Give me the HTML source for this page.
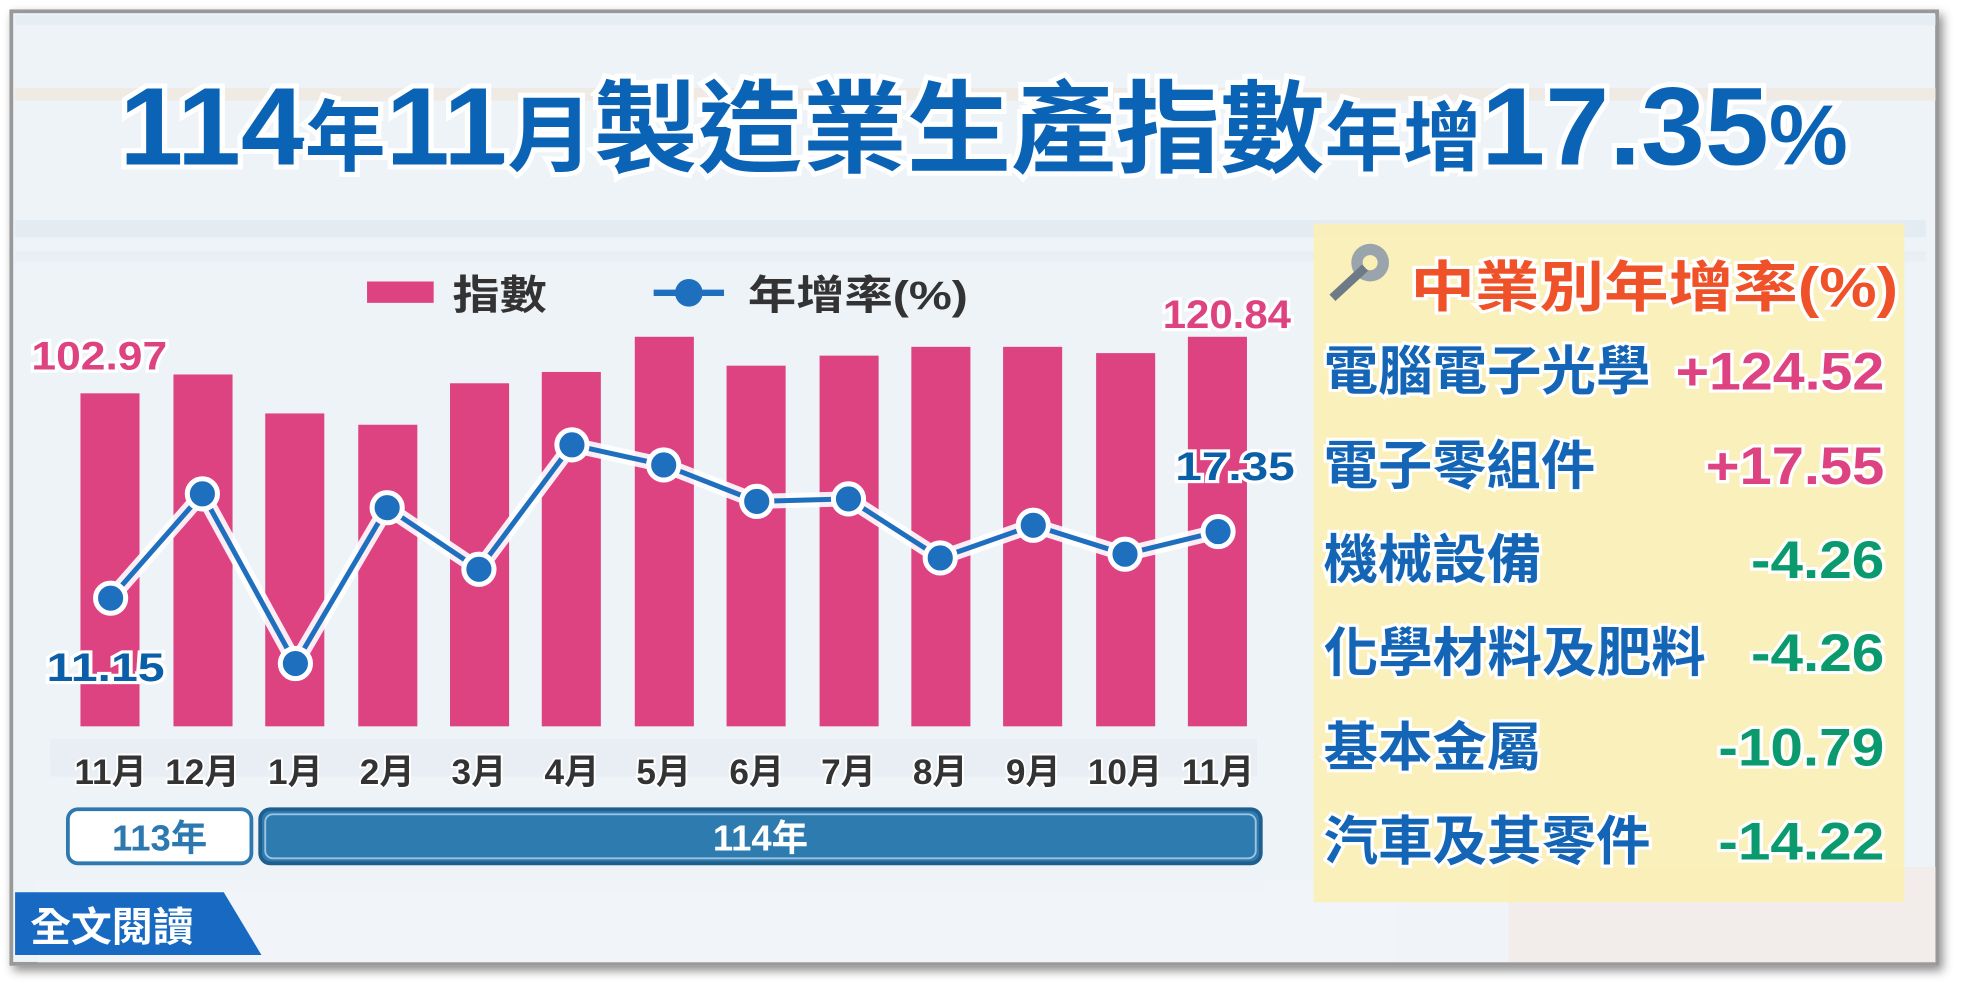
<!DOCTYPE html>
<html><head><meta charset="utf-8"><style>
html,body{margin:0;padding:0;background:#fff;}
svg{display:block}
text{font-family:"Liberation Sans","Noto Sans CJK TC",sans-serif;font-weight:bold}
</style></head><body>
<svg width="1971" height="994" viewBox="0 0 1568 791" preserveAspectRatio="none">
<defs>
<filter id="sh" x="-5%" y="-5%" width="110%" height="110%"><feDropShadow dx="3" dy="4" stdDeviation="4" flood-color="#000" flood-opacity="0.45"/></filter>
</defs>
<rect x="0" y="0" width="1568" height="791" fill="#fff"/>
<rect x="9" y="9" width="1532" height="758" fill="#eef3f8" stroke="#999" stroke-width="3" filter="url(#sh)"/>
<g opacity="0.5">
<rect x="12" y="175" width="1520" height="14" fill="#dce6ef"/>
<rect x="12" y="200" width="1520" height="8" fill="#e3ebf2"/>
<rect x="12" y="12" width="1528" height="8" fill="#dfe8f0"/>
<rect x="12" y="70" width="1528" height="10" fill="#f0e3d0"/>
<rect x="40" y="588" width="960" height="30" fill="#e4eaef"/>
<rect x="30" y="700" width="1500" height="66" fill="#f3f6f9"/>
<rect x="1200" y="690" width="340" height="76" fill="#f7e6de"/>
</g>
<text x="95" y="131" textLength="1375" lengthAdjust="spacingAndGlyphs" fill="#0b63b6" stroke="#fff" stroke-width="8" paint-order="stroke" font-size="88"><tspan>114</tspan><tspan font-size="62">年</tspan><tspan>11</tspan><tspan font-size="66">月</tspan><tspan font-size="80">製造業生產指數</tspan><tspan font-size="60">年增</tspan><tspan>17.35</tspan><tspan font-size="68">%</tspan></text>
<rect x="292" y="224" width="53" height="17" fill="#de4381"/>
<text x="360" y="246" font-size="32" fill="#333" textLength="75" lengthAdjust="spacingAndGlyphs">指數</text>
<line x1="520" y1="233" x2="576" y2="233" stroke="#1f6fbf" stroke-width="5"/>
<circle cx="548" cy="233" r="11" fill="#1f6fbf"/>
<text x="595" y="246" font-size="32" fill="#333" textLength="175" lengthAdjust="spacingAndGlyphs">年增率(%)</text>
<g fill="#de4381">
<rect x="64" y="313" width="47" height="265"/>
<rect x="138" y="298" width="47" height="280"/>
<rect x="211" y="329" width="47" height="249"/>
<rect x="285" y="338" width="47" height="240"/>
<rect x="358" y="305" width="47" height="273"/>
<rect x="431" y="296" width="47" height="282"/>
<rect x="505" y="268" width="47" height="310"/>
<rect x="578" y="291" width="47" height="287"/>
<rect x="652" y="283" width="47" height="295"/>
<rect x="725" y="276" width="47" height="302"/>
<rect x="798" y="276" width="47" height="302"/>
<rect x="872" y="281" width="47" height="297"/>
<rect x="945" y="268" width="47" height="310"/>
</g>
<g>
<polyline points="88,476 161,393 235,528 308,404 381,453 455,354 528,370 602,399 675,397 748,444 822,418 895,441 969,423" fill="none" stroke="#fff" stroke-width="12" stroke-linejoin="round" opacity="0.9"/>
<polyline points="88,476 161,393 235,528 308,404 381,453 455,354 528,370 602,399 675,397 748,444 822,418 895,441 969,423" fill="none" stroke="#1f6fbf" stroke-width="4" stroke-linejoin="round"/>
<g fill="#1f6fbf" stroke="#fff" stroke-width="4">
<circle cx="88" cy="476" r="12"/><circle cx="161" cy="393" r="12"/><circle cx="235" cy="528" r="12"/><circle cx="308" cy="404" r="12"/><circle cx="381" cy="453" r="12"/><circle cx="455" cy="354" r="12"/><circle cx="528" cy="370" r="12"/><circle cx="602" cy="399" r="12"/><circle cx="675" cy="397" r="12"/><circle cx="748" cy="444" r="12"/><circle cx="822" cy="418" r="12"/><circle cx="895" cy="441" r="12"/><circle cx="969" cy="423" r="12"/>
</g>
</g>
<g font-size="32" stroke="#fff" stroke-width="5" paint-order="stroke">
<text x="25" y="294" textLength="108" lengthAdjust="spacingAndGlyphs" fill="#de4381">102.97</text>
<text x="925" y="261" textLength="102" lengthAdjust="spacingAndGlyphs" fill="#de4381">120.84</text>
<text x="37" y="542" textLength="94" lengthAdjust="spacingAndGlyphs" fill="#0b5ea8">11.15</text>
<text x="935" y="382" textLength="95" lengthAdjust="spacingAndGlyphs" fill="#0b5ea8">17.35</text>
</g>
<g font-size="28" fill="#333" text-anchor="middle" stroke="#fff" stroke-width="3" paint-order="stroke">
<text x="88" y="624">11月</text><text x="161" y="624">12月</text><text x="235" y="624">1月</text><text x="308" y="624">2月</text><text x="381" y="624">3月</text><text x="455" y="624">4月</text><text x="528" y="624">5月</text><text x="602" y="624">6月</text><text x="675" y="624">7月</text><text x="748" y="624">8月</text><text x="822" y="624">9月</text><text x="895" y="624">10月</text><text x="969" y="624">11月</text>
</g>
<rect x="54" y="644" width="146" height="43" rx="8" fill="#fff" stroke="#2d78ae" stroke-width="3"/>
<text x="127" y="677" text-anchor="middle" font-size="29" fill="#2d78ae">113年</text>
<rect x="207" y="644" width="796" height="43" rx="8" fill="#2e7bb0" stroke="#1e5f8e" stroke-width="3"/>
<rect x="211" y="648" width="788" height="35" rx="6" fill="none" stroke="#9cc3e0" stroke-width="1.5"/>
<text x="605" y="677" text-anchor="middle" font-size="29" fill="#fff">114年</text>
<polygon points="12,710 178,710 208,760 12,760" fill="#1769c2"/>
<text x="24" y="749" font-size="32" fill="#fff" font-weight="normal" textLength="130" lengthAdjust="spacingAndGlyphs">全文閱讀</text>
<rect x="1045" y="178" width="470" height="540" fill="#fbf0b4" opacity="0.9"/>
<g transform="translate(1082,215)">
<circle cx="8" cy="-6" r="15" fill="#9aa4ad"/><circle cx="8" cy="-6" r="6" fill="#fbf0b4"/>
<line x1="-22" y1="22" x2="4" y2="-2" stroke="#6e7a85" stroke-width="7"/>
</g>
<text x="1122" y="244" font-size="44" fill="#ef5128" stroke="#fff" stroke-width="5" paint-order="stroke" textLength="388" lengthAdjust="spacingAndGlyphs">中業別年增率(%)</text>
<g font-size="42" stroke="#fff" stroke-width="5" paint-order="stroke">
<g fill="#1465b5">
<text x="1053" y="310" textLength="260" lengthAdjust="spacingAndGlyphs">電腦電子光學</text>
<text x="1053" y="385" textLength="216" lengthAdjust="spacingAndGlyphs">電子零組件</text>
<text x="1053" y="460" textLength="173" lengthAdjust="spacingAndGlyphs">機械設備</text>
<text x="1053" y="534" textLength="304" lengthAdjust="spacingAndGlyphs">化學材料及肥料</text>
<text x="1053" y="609" textLength="173" lengthAdjust="spacingAndGlyphs">基本金屬</text>
<text x="1053" y="684" textLength="260" lengthAdjust="spacingAndGlyphs">汽車及其零件</text>
</g>
<g>
<text x="1333" y="310" textLength="166" lengthAdjust="spacingAndGlyphs" fill="#de4381">+124.52</text>
<text x="1357" y="385" textLength="142" lengthAdjust="spacingAndGlyphs" fill="#de4381">+17.55</text>
<text x="1393" y="460" textLength="106" lengthAdjust="spacingAndGlyphs" fill="#0a9a6e">-4.26</text>
<text x="1393" y="534" textLength="106" lengthAdjust="spacingAndGlyphs" fill="#0a9a6e">-4.26</text>
<text x="1367" y="609" textLength="132" lengthAdjust="spacingAndGlyphs" fill="#0a9a6e">-10.79</text>
<text x="1367" y="684" textLength="132" lengthAdjust="spacingAndGlyphs" fill="#0a9a6e">-14.22</text>
</g>
</g>
</svg>
</body></html>
